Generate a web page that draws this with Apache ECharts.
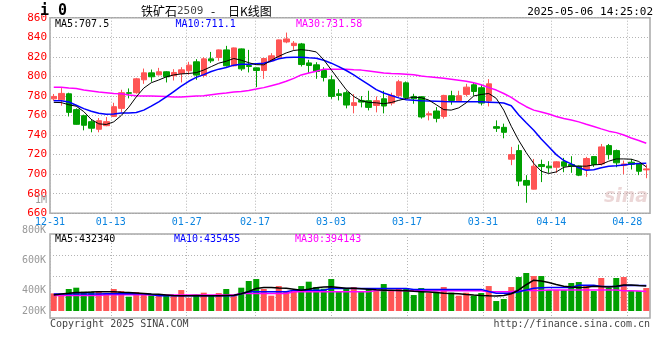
<!DOCTYPE html>
<html><head><meta charset="utf-8">
<script src="https://cdn.jsdelivr.net/npm/echarts@6/dist/echarts.min.js"></script>
<style>html,body{margin:0;padding:0;background:#fff}#c{width:660px;height:360px}</style>
</head><body><div id="c"></div>
<script>
// ---------- data ----------
const dates = ['12-31',
 '01-02','01-03','01-06','01-07','01-08','01-09','01-10','01-13','01-14','01-15','01-16','01-17','01-20','01-21','01-22','01-23','01-24','01-27',
 '02-05','02-06','02-07','02-10','02-11','02-12','02-13','02-14','02-17','02-18','02-19','02-20','02-21','02-24','02-25','02-26','02-27','02-28',
 '03-03','03-04','03-05','03-06','03-07','03-10','03-11','03-12','03-13','03-14','03-17','03-18','03-19','03-20','03-21','03-24','03-25','03-26','03-27','03-28','03-31',
 '04-01','04-02','04-03','04-07','04-08','04-09','04-10','04-11','04-14','04-15','04-16','04-17','04-18','04-21','04-22','04-23','04-24','04-25','04-28','04-29','04-30',
 '05-06'];
const tickLabels = ['12-31','01-13','01-27','02-17','03-03','03-17','03-31','04-14','04-28'];

const open = [777,776,782.2,766,759.8,753.7,745.9,749.6,759.1,767.3,783.3,783.3,796.5,803.6,801.6,804.7,800.6,803,805.7,814.9,
 800.9,817.9,819.3,827.1,810.8,828.1,811.1,808.7,806,815.9,819.6,835.2,831.5,833.2,813.8,811.8,806,796.5,782.2,783.3,
 770.3,775.4,775.1,770.3,777.1,772.7,780.2,793.4,779.5,779.2,760.5,764.6,759.1,780.2,775.1,781.6,791.4,788.4,774.8,748.6,
 747.9,715.3,724.1,693.6,684.7,709.9,708.2,707.1,712.6,709.9,708.2,704.8,718,710.5,729.2,724.1,708.8,712.2,710.5,704.4];
const close = [779.5,782.6,763.2,751,750,747,754.7,753.7,769,783.3,782.7,797.5,803.6,799.6,804.7,799.6,804,806.7,811.5,801.3,
 817.9,815.9,827.1,810.8,829.1,807.7,810.1,806,818.3,821,837.3,838.3,833.9,812.1,811.1,805,798.9,779.5,780.5,770.7,
 773.1,773.7,768.3,775.1,769.7,780.5,794.5,778.5,777.1,758.5,761.8,757.1,780.5,775.4,780.2,789,784.6,772.7,792.4,746.9,
 742.8,720,692.9,688.8,708.2,707.8,706.5,712.6,708.2,708.2,699,716,709.9,727.9,720,711.6,710.5,710.1,703,705.4];
const low = [775,770,759,750.6,744.8,742.8,742.8,749,758.4,763.2,777.5,782.2,792.4,794.5,801,793.8,795.8,793.8,801.6,796.5,
 798.9,813.8,815.9,810.1,810.1,805.7,804,789,797.5,815.5,819.3,833.9,827.1,810.1,803.3,797.5,794.8,777.1,775.4,767.3,
 762.2,768.3,765.2,763.2,762.2,770.3,778.5,777.1,772,756.8,755,753,756.8,771,774.4,779.5,780.2,770.3,769.3,743.2,
 736.7,709.2,687.8,670.8,684.4,691.9,701.4,701.4,702,701.4,698,697.3,707.5,708.8,715,707.1,700,704.8,699,695.9];
const high = [782,788,783.3,767.3,760.8,756.4,757.4,758.4,773,786.3,787.7,798.5,808,807,808.7,805.3,807.4,809.4,814.9,817.6,
 819.6,825,827.5,831.2,829.5,828.5,827.1,809,818.6,823.7,837.6,844.8,836.1,834.2,816.9,814.5,809.4,800.9,787,785.3,
 781.9,779.9,785.3,779.5,785.3,783.3,796.5,794.8,782.2,779.9,764.2,768.6,781.2,785.3,785.3,792.4,793.1,791.4,797.2,755,
 751.7,727.9,730.2,699,715.6,714.9,713.3,713.3,716.7,718.4,708.8,717.7,718.4,730.9,730.9,725.2,713.9,715.6,711,709.9];

const ma5 = [773.4,773.2,771,769.5,764,756,751.5,750.8,753.5,760,768.5,779,788,793.5,796.3,799.5,801.5,802.5,803,803.8,
 806.5,810,813.5,815.5,818.3,816.5,814,812,811.8,816.5,820.5,824,826.5,827.3,826.5,825,817,806.7,796.5,786.3,
 779.5,775,773.4,773,772,773.3,775.5,777.3,778.8,778.2,775.8,771,766,765.5,767.8,773,780,781.5,782.5,777.5,
 765.5,749,734.5,722,711,703,700.7,702.3,707,708.2,708.2,708.2,709.5,710,713.3,715.6,715.6,715.3,713,707.5];
const ma10 = [775.1,775,773.8,770.5,767,764.3,762.3,761.2,761.5,762.5,762.5,763,765.5,769.5,774,779,784.5,790,795,799,
 801.8,805,807.4,809,811.5,812.5,812.5,813,813.5,815.5,818,819.3,819.6,819.6,819,818.5,816.5,813.5,810,806,
 801.5,796.5,791.5,786.5,783,780.5,778,776.1,775.5,775,774.8,774.5,774.2,774.1,774.1,774.1,774.1,774,773.6,773.2,
 772.7,770,760.5,752.5,745,736,728,720,714,710.5,706.5,704,704.5,706.5,708,708.5,709.5,710.3,710.8,711.1];
const ma30 = [789,789,788,787.5,786,785,784,783.3,782.6,782.3,781,780.2,780,779.9,779.8,779.4,778.8,778.8,779.5,779.9,
 780.2,781.2,782.2,782.9,784,784.5,785.6,787,788.5,790.5,792.4,795,798,801.5,803.5,805.3,807.2,807.4,807.4,807.4,
 806.8,806.4,805.5,804.5,803.5,803,802.8,802.3,801.6,800.5,799.5,798.8,798,797,796,795,793.5,791.5,788.5,786,
 782.5,778.5,773.5,769,765.5,763.5,761.5,759,757,755.5,753.5,751,748.7,746.3,744,742.5,740,737,734.5,731.6];

const volume = [382500,378000,411400,420300,393600,393600,398000,382500,411400,398000,360300,391400,382500,371400,375800,371400,367000,404700,353600,367000,
 387000,371400,384700,411400,371400,420300,464700,478000,411400,367000,431300,391400,398000,431300,460300,424700,413600,478000,398000,415800,
 424700,391400,415800,398000,444700,404700,418000,418000,371400,418000,384700,393600,424700,387000,367000,387000,367000,384700,431300,331400,
 344700,424700,491300,518000,498000,498000,404700,404700,404700,451400,458000,438000,398000,484700,420300,484700,491300,398000,398000,418000];
const volMa5 = [371000,378000,383000,389000,389000,391000,394000,394000,393000,390000,388000,385000,382000,378000,376000,372000,368000,366000,366000,368000,
 367000,366000,366000,368000,370000,380000,395000,415000,422000,422000,418000,416000,410000,404000,410000,420000,425000,427000,422000,416000,
 416000,414000,410000,406000,404000,404000,402000,400000,396000,394000,392000,388000,384000,382000,380000,375000,371000,368000,366000,365000,
 368000,380000,405000,440000,470000,465000,455000,442000,430000,425000,422000,424000,430000,428000,425000,430000,438000,438000,435000,432340];
const volMa10 = [378000,378000,378000,378000,378000,378000,378000,380000,380000,380000,380000,380000,380000,375000,367000,367000,367000,367000,367000,367000,
 367000,367000,367000,367000,367000,380000,393000,393000,393000,393000,393000,393000,404000,404000,404000,404000,404000,415000,415000,415000,
 415000,415000,415000,415000,415000,415000,415000,415000,409000,409000,409000,409000,409000,409000,409000,409000,409000,409000,395000,383000,
 383000,383000,393000,405000,416000,420000,422000,422000,422000,422000,437000,437000,437000,428000,428000,428000,435000,435000,435000,435455];
const volMa30 = [369000,369000,369000,369000,369000,369000,369000,373000,373000,373000,373000,373000,373000,371000,371000,371000,371000,371000,371000,371000,
 371000,371000,371000,371000,371000,382000,382000,382000,382000,382000,382000,382000,393000,393000,393000,393000,393000,393000,393000,393000,
 393000,393000,393000,401000,401000,401000,401000,400000,400000,400000,400000,400000,400000,400000,400000,400000,400000,400000,394000,394000,
 394000,394000,401000,401000,401000,401000,405000,405000,405000,405000,405000,405000,405000,405000,405000,405000,400000,400000,398000,394143];

const priceMin = 660, priceMax = 860, priceStep = 20;
const volLabelValues = [265000, 400000, 600000, 800000];

// ---------- chart ----------
const RED = '#ff5555', GREEN = '#00a000', BLUE_LBL = '#0b84e0';
const MONO = 'DejaVu Sans Mono';
const GRIDC = '#b4b4b4';
const showTick = (i, v) => tickLabels.indexOf(v) >= 0;

const chart = echarts.init(document.getElementById('c'), null, {renderer: 'canvas'});

function txt(text, x, y, color, font, align) {
  return {type: 'text', x: x, y: y, z: 50,
    style: {text: text, fill: color, font: font, align: align || 'left', verticalAlign: 'middle'}};
}

chart.setOption({
  animation: false,
  backgroundColor: '#fff',
  grid: [
    {left: 50, top: 17.7, width: 600, height: 195.6, show: true, borderColor: '#a8a8a8', borderWidth: 1.5, outerBoundsMode: 'none'},
    {left: 50, top: 230.7, width: 600, height: 80.3, show: false, outerBoundsMode: 'none'},
    {left: 50, top: 234, width: 600, height: 84, show: true, borderColor: '#a8a8a8', borderWidth: 1.5, outerBoundsMode: 'none'}
  ],
  xAxis: [
    {type: 'category', gridIndex: 0, data: dates, boundaryGap: true, show: false, position: 'bottom'},
    {type: 'category', gridIndex: 0, data: dates, boundaryGap: false, position: 'bottom',
      axisLine: {show: false}, axisTick: {show: false},
      axisLabel: {interval: showTick, color: BLUE_LBL, fontFamily: MONO, fontSize: 10, margin: 4},
      splitLine: {show: true, interval: showTick, lineStyle: {color: GRIDC, type: [1, 2], width: 1}}},
    {type: 'category', gridIndex: 1, data: dates, boundaryGap: true, show: false, position: 'bottom'},
    {type: 'category', gridIndex: 2, data: dates, boundaryGap: false, position: 'bottom',
      axisLine: {show: false}, axisTick: {show: false}, axisLabel: {show: false},
      splitLine: {show: true, interval: showTick, lineStyle: {color: GRIDC, type: [1, 2], width: 1}}}
  ],
  yAxis: [
    {type: 'value', gridIndex: 0, min: priceMin, max: priceMax, interval: priceStep,
      axisLine: {show: false}, axisTick: {show: false},
      axisLabel: {color: '#ff0000', fontFamily: MONO, fontSize: 11, margin: 3},
      splitLine: {show: true, lineStyle: {color: GRIDC, type: [1, 2], width: 1}}},
    {type: 'value', gridIndex: 1, min: 265000, max: 800000,
      axisLine: {show: false}, axisTick: {show: false}, splitLine: {show: false},
      axisLabel: {customValues: volLabelValues, color: '#999', fontFamily: MONO, fontSize: 10, margin: 4,
        formatter: v => (Math.round(v / 200000) * 200) + 'K'}},
    {type: 'value', gridIndex: 2, min: 0, max: 4, interval: 1,
      axisLine: {show: false}, axisTick: {show: false}, axisLabel: {show: false},
      splitLine: {show: true, lineStyle: {color: GRIDC, type: [1, 2], width: 1}}}
  ],
  series: [
    {type: 'candlestick', xAxisIndex: 0, yAxisIndex: 0, barWidth: 6,
      data: dates.map((d, i) => [open[i], close[i], low[i], high[i]]),
      itemStyle: {color: RED, color0: GREEN, borderColor: RED, borderColor0: GREEN, borderWidth: 1}},
    {type: 'line', xAxisIndex: 0, yAxisIndex: 0, data: ma30, symbol: 'none', lineStyle: {color: '#ff00ff', width: 1.5}, z: 3},
    {type: 'line', xAxisIndex: 0, yAxisIndex: 0, data: ma10, symbol: 'none', lineStyle: {color: '#0000ff', width: 1.5}, z: 3},
    {type: 'line', xAxisIndex: 0, yAxisIndex: 0, data: ma5, symbol: 'none', lineStyle: {color: '#000', width: 1}, z: 4},
    {type: 'bar', xAxisIndex: 2, yAxisIndex: 1, data: volume, barWidth: 6,
      itemStyle: {color: p => close[p.dataIndex] > open[p.dataIndex] ? RED : GREEN}},
    {type: 'line', xAxisIndex: 2, yAxisIndex: 1, data: volMa30, symbol: 'none', step: false, lineStyle: {color: '#ff00ff', width: 1.5}, z: 3},
    {type: 'line', xAxisIndex: 2, yAxisIndex: 1, data: volMa10, symbol: 'none', lineStyle: {color: '#0000ff', width: 1.5}, z: 3},
    {type: 'line', xAxisIndex: 2, yAxisIndex: 1, data: volMa5, symbol: 'none', lineStyle: {color: '#000', width: 1.5}, z: 4}
  ],
  graphic: [
    txt('i 0', 40, 11, '#000', 'bold 15px ' + MONO),
    txt('铁矿石', 141, 11, '#000', '12px "Noto Sans CJK SC"'),
    txt('2509', 177, 11.5, '#444', '11px ' + MONO),
    txt('-', 211, 11, '#000', '12px "Noto Sans CJK SC"'),
    txt('日K线图', 228, 11, '#000', '12px "Noto Sans CJK SC"'),
    txt('2025-05-06 14:25:02', 653, 12, '#000', '11px ' + MONO, 'right'),
    txt('MA5:707.5', 55, 24, '#000', '10px ' + MONO),
    txt('MA10:711.1', 175.5, 24, '#0000ff', '10px ' + MONO),
    txt('MA30:731.58', 296, 24, '#ff00ff', '10px ' + MONO),
    txt('1M', 47, 200.5, '#999', '10px ' + MONO, 'right'),
    txt('MA5:432340', 55, 239.5, '#000', '10px ' + MONO),
    txt('MA10:435455', 174, 239.5, '#0000ff', '10px ' + MONO),
    txt('MA30:394143', 295, 239.5, '#ff00ff', '10px ' + MONO),
    txt('Copyright 2025 SINA.COM', 50, 324.5, '#444', '10px ' + MONO),
    txt('http://finance.sina.com.cn', 650, 324.5, '#444', '10px ' + MONO, 'right'),
    {type: 'text', x: 626, y: 197, z: 1, style: {text: 'sina', fill: 'rgba(200,140,140,0.35)', font: 'italic bold 19px "DejaVu Sans"', align: 'center', verticalAlign: 'middle'}}
  ]
});
</script>
</body></html>
